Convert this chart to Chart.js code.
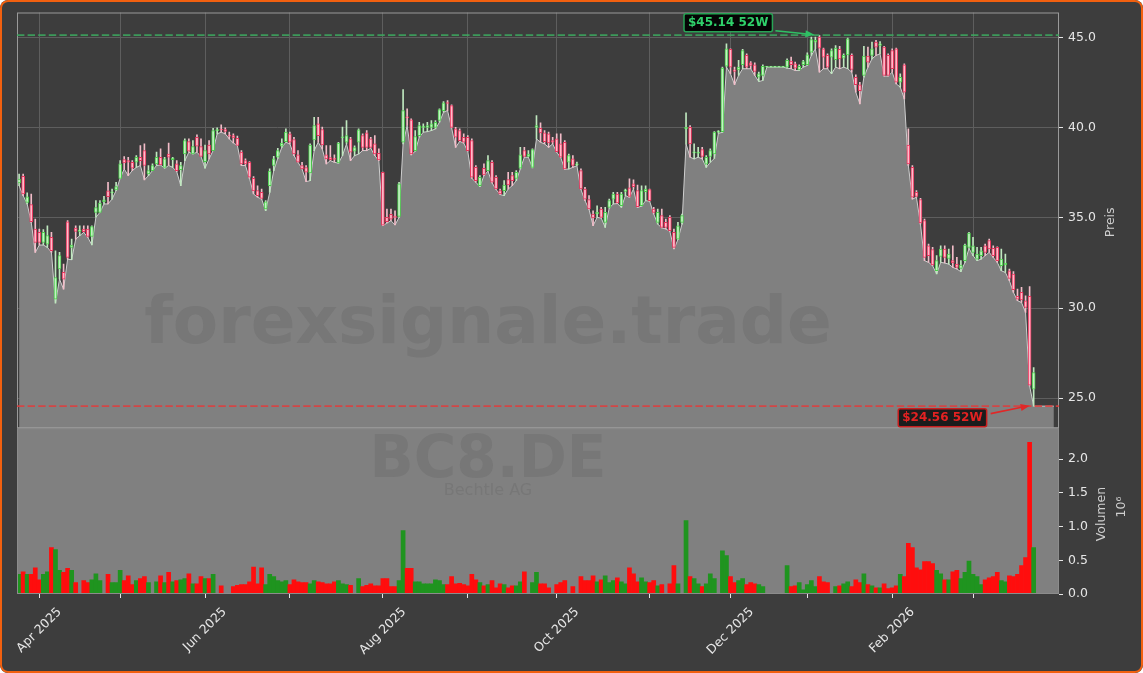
<!DOCTYPE html>
<html><head><meta charset="utf-8">
<script src="https://cdn.jsdelivr.net/npm/chart.js@4.4.1/dist/chart.umd.min.js"></script>
<style>
html,body{margin:0;padding:0;background:#ffffff;}
#wrap{position:relative;width:1143px;height:673px;background:#3d3d3d;border-radius:8px;overflow:hidden;}
#frame{position:absolute;left:0;top:0;width:1143px;height:673px;box-sizing:border-box;border:2px solid #f2600f;border-radius:8px;pointer-events:none;}
canvas{position:absolute;left:0;top:0;}
</style></head><body>
<div id="wrap"><canvas id="c" width="1143" height="673"></canvas><div id="frame"></div></div>
<script>
// ---- data (bar index = trading day, 25 Mar 2025 .. 20 Mar 2026) ----
const opens = [36.94,37.31,35.87,35.74,34.39,34.20,33.65,33.55,33.92,30.50,
32.17,31.98,34.79,33.37,34.44,34.26,34.39,34.39,33.98,35.31,
35.31,35.90,36.50,36.39,36.55,37.20,38.24,38.18,38.09,38.09,
38.37,38.74,37.44,37.63,38.00,38.37,37.81,38.55,38.24,38.00,
37.68,38.55,39.24,38.55,39.48,38.96,38.13,39.05,38.74,39.85,
39.90,39.90,39.57,39.57,39.42,38.65,38.18,38.09,37.20,36.52,
36.42,35.50,36.79,37.91,38.37,38.98,39.24,39.67,39.35,38.50,
37.91,37.80,37.50,39.33,40.22,39.91,38.50,38.35,38.30,38.05,
39.45,39.20,39.39,38.70,39.20,39.57,39.72,39.39,39.11,38.59,
37.53,35.03,35.20,35.10,35.09,39.20,40.60,40.44,38.74,39.57,
40.03,40.03,40.03,40.03,40.41,40.96,41.39,41.24,39.94,39.85,
39.48,39.48,39.29,37.81,36.79,37.76,37.63,38.09,37.26,36.52,
36.52,37.13,37.35,37.20,37.76,38.74,38.42,37.81,40.03,39.98,
39.72,39.67,39.29,39.39,39.11,39.20,38.09,38.28,37.95,37.63,
36.61,36.02,35.22,35.22,35.50,34.76,35.59,36.05,36.33,35.68,
36.48,36.67,36.89,36.52,35.68,36.46,36.57,35.50,34.76,35.13,
34.76,35.03,34.20,33.83,34.76,39.94,40.03,38.61,38.59,38.79,
37.99,38.41,38.55,39.76,39.79,43.42,44.35,43.22,43.22,43.50,
44.02,43.61,43.50,42.81,42.91,43.37,43.37,43.37,43.37,43.37,
43.37,43.70,43.55,43.22,43.50,43.50,44.20,44.76,45.04,44.39,
44.02,43.92,43.78,44.35,43.87,44.05,44.02,42.81,42.39,42.91,
43.98,44.02,44.76,44.57,44.48,44.02,44.29,44.39,42.53,43.50,
39.05,37.81,36.42,36.02,34.85,33.46,33.24,32.07,32.87,33.28,
32.76,32.63,32.44,32.20,32.63,33.37,33.09,32.72,32.91,33.46,
33.74,33.31,33.37,32.35,32.39,32.07,31.89,30.65,30.87,30.41,
30.65,25.50];
const highs = [37.44,37.44,36.39,36.33,34.94,34.39,34.35,34.57,34.20,33.18,
33.09,32.44,34.85,33.83,34.57,34.57,34.57,34.57,34.57,35.96,
35.96,36.20,36.98,36.61,36.98,38.18,38.41,38.37,38.18,38.46,
39.02,39.11,37.91,38.00,38.65,38.83,38.37,39.15,38.37,38.18,
38.09,39.39,39.39,39.30,39.61,39.39,39.05,39.30,39.98,40.00,
40.17,40.00,39.76,39.67,39.54,38.74,38.28,38.13,37.30,36.79,
36.61,35.96,37.72,38.42,38.87,39.39,39.94,39.76,39.48,38.74,
38.09,37.91,39.11,40.59,40.59,40.04,39.02,39.02,38.50,39.20,
40.04,40.40,39.48,39.00,39.94,39.67,39.85,39.48,39.57,38.83,
37.55,35.50,35.50,35.40,36.98,42.13,41.05,40.50,39.85,40.31,
40.22,40.31,40.41,40.41,41.05,41.46,41.52,41.28,40.03,39.94,
39.67,39.57,39.39,37.91,37.35,38.00,38.46,38.18,37.35,36.61,
37.07,37.53,37.53,37.63,38.92,38.92,38.74,38.83,40.68,40.28,
39.85,39.76,39.48,39.67,39.67,39.29,38.55,38.46,38.10,37.72,
36.70,36.24,35.40,35.68,35.59,35.59,36.05,36.42,36.42,36.42,
36.61,37.17,37.11,36.83,36.79,36.79,36.61,35.59,35.50,35.50,
34.94,35.13,34.39,34.76,35.22,40.83,40.13,39.11,38.92,38.92,
38.46,38.83,39.79,39.85,43.37,44.66,44.39,43.37,43.74,44.35,
44.11,43.68,43.61,43.09,43.50,43.37,43.37,43.37,43.37,43.37,
43.83,43.92,43.65,43.50,43.74,44.16,45.04,45.04,45.14,44.42,
44.11,44.39,44.57,44.53,44.11,44.98,44.11,42.94,42.53,44.53,
44.48,44.76,44.85,44.79,44.53,44.11,44.39,44.42,43.00,43.55,
39.94,37.91,36.52,36.09,34.94,33.55,33.37,32.91,33.46,33.46,
33.28,33.46,32.81,32.63,33.55,34.20,33.92,33.37,33.37,33.55,
33.83,33.46,33.40,33.28,33.00,32.17,32.02,31.05,31.15,30.68,
31.20,26.70];
const lows = [36.79,36.24,35.78,34.76,33.09,33.50,33.50,33.37,33.09,30.28,
31.61,31.05,32.72,32.68,33.83,34.02,34.20,33.92,33.50,35.04,
35.31,35.78,35.78,36.05,36.52,37.20,37.72,37.35,37.63,37.81,
37.91,37.11,37.35,37.63,37.91,37.94,37.76,37.91,37.81,37.57,
36.79,38.18,38.65,38.55,38.65,38.41,37.76,38.28,38.74,39.67,
39.76,39.67,39.39,39.16,39.02,37.91,37.91,37.20,36.33,36.15,
36.05,35.40,36.42,37.63,38.31,38.92,39.20,39.11,38.46,38.09,
37.72,37.02,37.07,38.74,39.20,38.83,38.00,38.18,38.09,38.04,
38.46,39.11,38.18,38.46,38.55,38.74,38.74,38.87,38.46,38.18,
34.57,34.72,34.85,34.61,35.03,39.11,40.13,38.50,38.70,39.48,
39.76,39.79,39.85,39.94,40.31,40.87,40.96,40.00,38.92,39.25,
39.15,38.70,37.20,36.98,36.74,37.35,37.60,36.95,36.58,36.30,
36.24,36.61,36.79,37.07,37.72,38.37,38.37,37.78,39.39,39.20,
39.11,38.92,39.11,38.65,38.35,37.70,37.72,37.81,37.90,36.58,
35.96,35.48,34.57,35.03,35.00,34.48,35.55,35.78,35.80,35.59,
36.24,36.15,36.61,35.59,35.65,35.96,35.93,35.22,34.66,34.45,
34.39,34.26,33.28,33.80,34.66,39.11,38.37,38.28,38.37,38.28,
37.81,38.09,38.30,39.70,39.75,43.37,43.00,42.39,42.91,43.28,
43.28,43.28,42.91,42.57,42.63,43.37,43.37,43.37,43.37,43.37,
43.31,43.28,43.18,43.18,43.37,43.46,44.02,44.39,43.09,43.28,
43.28,43.00,43.37,43.28,43.37,43.28,43.09,41.98,41.33,42.81,
43.37,43.83,44.02,44.11,42.87,42.87,43.09,42.44,42.26,41.61,
37.91,36.05,36.15,34.66,32.63,32.54,32.35,31.89,32.54,32.50,
32.44,32.26,32.17,32.02,32.54,33.31,32.91,32.63,32.72,32.91,
33.09,32.81,32.54,32.07,31.98,31.52,30.87,30.41,30.31,29.76,
25.68,24.56];
const closes = [37.16,36.33,36.18,34.79,33.65,33.65,34.20,34.02,33.18,31.70,
32.91,31.61,32.81,33.50,34.26,34.33,34.24,33.98,34.52,35.57,
35.83,36.00,36.18,36.42,36.74,38.00,38.05,38.09,37.76,38.37,
38.18,37.91,37.63,37.91,38.37,37.94,38.28,38.37,38.33,37.63,
37.91,39.30,38.70,38.96,38.98,38.41,38.74,38.55,39.85,39.90,
39.88,39.80,39.54,39.44,39.02,38.00,38.00,37.26,36.50,36.24,
36.09,35.90,37.60,38.28,38.74,39.16,39.76,39.20,38.55,38.09,
37.72,37.54,39.05,40.13,39.57,39.05,38.28,38.24,38.25,39.16,
39.50,39.57,38.65,38.90,39.89,38.92,38.92,38.92,38.55,38.22,
34.60,34.79,34.94,35.03,36.89,40.96,40.55,38.55,39.52,40.13,
40.07,40.13,40.22,40.31,41.02,41.39,41.35,40.03,39.48,39.29,
39.20,38.74,37.26,37.07,37.26,37.39,38.18,36.98,36.61,36.33,
36.83,36.83,37.07,37.53,38.50,38.42,38.55,38.79,40.13,39.72,
39.24,39.17,39.20,38.68,38.37,37.72,38.46,37.91,38.00,36.61,
36.05,35.50,35.00,35.31,35.03,35.31,35.96,36.33,35.83,36.33,
36.55,36.20,36.74,35.63,36.52,36.61,35.96,35.31,35.31,34.48,
34.48,34.29,33.37,34.57,35.13,40.03,39.11,38.65,38.65,38.42,
38.37,38.74,39.76,39.79,43.31,44.39,43.37,43.13,43.37,44.29,
43.37,43.46,43.13,43.00,43.42,43.37,43.37,43.37,43.37,43.37,
43.74,43.50,43.31,43.42,43.68,44.05,44.90,44.85,44.42,43.92,
43.37,44.29,44.42,43.83,44.02,44.94,43.24,42.39,42.07,43.98,
43.65,44.39,44.48,44.66,42.91,42.91,43.28,42.53,42.81,41.98,
38.00,36.15,36.20,34.72,32.81,32.91,32.39,32.63,33.28,32.81,
33.00,32.50,32.26,32.39,33.50,34.16,33.46,33.00,33.18,33.09,
33.28,32.91,32.63,32.72,32.50,31.65,31.02,30.50,30.46,30.04,
25.72,26.42];
// volume in millions of shares
const volumes = [0.29,0.33,0.29,0.29,0.39,0.21,0.29,0.33,0.69,0.66,
0.35,0.32,0.38,0.35,0.17,0,0.20,0.17,0.21,0.30,
0.20,0,0.29,0.17,0.17,0.35,0.20,0.27,0.14,0.20,
0.23,0.26,0.17,0,0.18,0.27,0.17,0.32,0.18,0.20,
0.21,0.23,0.30,0.15,0.15,0.26,0.23,0.23,0.29,0,
0.12,0,0,0.11,0.13,0.14,0.14,0.18,0.40,0.15,
0.39,0.14,0.29,0.26,0.20,0.18,0.20,0.14,0.21,0.18,
0.17,0.17,0.15,0.20,0.18,0.17,0.15,0.15,0.18,0.20,
0.15,0.14,0.13,0,0.23,0.11,0.13,0.15,0.12,0.12,
0.23,0.23,0.11,0.11,0.20,0.94,0.38,0.38,0.18,0.18,
0.15,0.15,0.15,0.21,0.20,0.14,0.14,0.26,0.15,0.16,
0.14,0.12,0.29,0.21,0.17,0.12,0.14,0.20,0.09,0.15,
0.14,0.09,0.12,0.12,0.18,0.33,0,0.17,0.32,0.15,
0.15,0.09,0,0.14,0.17,0.20,0,0.11,0,0.26,
0.20,0.20,0.27,0.18,0.21,0.27,0.17,0.20,0.24,0.18,
0.15,0.39,0.30,0.18,0.24,0.18,0.17,0.20,0.12,0.14,
0,0.15,0.42,0.15,0,1.09,0.26,0.23,0.15,0.11,
0.15,0.30,0.23,0,0.64,0.57,0.26,0.17,0.20,0.23,
0.14,0.17,0.15,0.14,0.11,0,0,0,0,0,
0.42,0.11,0.12,0.17,0.06,0.14,0.20,0.11,0.26,0.18,
0.17,0,0.11,0.12,0.15,0.18,0.11,0.21,0.17,0.30,
0.14,0.12,0.09,0.09,0.15,0.08,0.09,0.12,0.29,0.26,
0.75,0.69,0.39,0.36,0.48,0.48,0.45,0.35,0.30,0.21,
0.21,0.33,0.35,0.23,0.32,0.49,0.29,0.26,0.14,0.21,
0.24,0.26,0.32,0.20,0.18,0.27,0.26,0.29,0.42,0.54,
2.25,0.69];
const monthTickIndex = [5,25,46,67,90,111,133,156,176,195,216,236];
const monthTickLabels = ['Apr 2025','','Jun 2025','','Aug 2025','','Oct 2025','','Dec 2025','','Feb 2026',''];
const priceTicks = [25,30,35,40,45];
const volumeTicks = [0,0.5,1.0,1.5,2.0];
const symbolText = 'BC8.DE';
const companyText = 'Bechtle AG';
const watermarkText = 'forexsignale.trade';
const priceTitle = 'Preis';
const volumeTitle = 'Volumen';
const volumeMultiplier = '10\u2076';

// ---- derived ----
const N = closes.length;
const idx = closes.map((_, i) => i);
const isUp = idx.map(i => closes[i] >= opens[i]);
const hi52 = Math.max(...highs), lo52 = Math.min(...lows);
const hiIdx = highs.indexOf(hi52), loIdx = lows.indexOf(lo52);
const fillPts = idx.map(i => ({x: i, y: lows[i]}));
for (let k = 1; k <= 5; k++) fillPts.push({x: N - 1 + k, y: lows[N - 1]});

const UP_EDGE = '#4ccd4c', UP_FILL = '#c4f2c4', DN_EDGE = '#e8345c', DN_FILL = '#ffbccb';
const UP_WICK = '#bfe8bf', DN_WICK = '#f2bcc8';
const FONT = '"DejaVu Sans", sans-serif';

function arrow(ctx, sx, sy, ex, ey, color) {
  const a = Math.atan2(ey - sy, ex - sx);
  ctx.strokeStyle = color; ctx.fillStyle = color; ctx.lineWidth = 1.6;
  ctx.beginPath(); ctx.moveTo(sx, sy); ctx.lineTo(ex - 7 * Math.cos(a), ey - 7 * Math.sin(a)); ctx.stroke();
  ctx.beginPath(); ctx.moveTo(ex, ey);
  ctx.lineTo(ex - 9 * Math.cos(a) + 3.5 * Math.sin(a), ey - 9 * Math.sin(a) - 3.5 * Math.cos(a));
  ctx.lineTo(ex - 9 * Math.cos(a) - 3.5 * Math.sin(a), ey - 9 * Math.sin(a) + 3.5 * Math.cos(a));
  ctx.closePath(); ctx.fill();
}
function tag(ctx, text, fg, edge, bg, right, cy) {
  ctx.font = 'bold 12px ' + FONT;
  const w = ctx.measureText(text).width + 8, h = 18;
  const x0 = right - w, y0 = cy - h / 2;
  ctx.beginPath(); ctx.roundRect(x0, y0, w, h, 2);
  ctx.fillStyle = bg; ctx.fill(); ctx.lineWidth = 1.5; ctx.strokeStyle = edge; ctx.stroke();
  ctx.fillStyle = fg; ctx.textAlign = 'center'; ctx.textBaseline = 'middle';
  ctx.fillText(text, x0 + w / 2, cy + 0.5);
}

const decor = {
  id: 'decor',
  beforeDatasetsDraw(chart) {
    const {ctx, chartArea: ca} = chart; const yV = chart.scales.yV;
    ctx.save(); ctx.fillStyle = '#808080';
    ctx.fillRect(ca.left, yV.top, ca.right - ca.left, yV.bottom - yV.top);
    ctx.restore();
  },
  afterDatasetsDraw(chart) {
    const {ctx, chartArea: ca} = chart; const {x, yP, yV} = chart.scales;
    ctx.save();
    ctx.textAlign = 'center'; ctx.textBaseline = 'middle'; ctx.fillStyle = 'rgba(40,40,40,0.10)';
    ctx.font = 'bold 66px ' + FONT; ctx.fillText(watermarkText, 488, 326);
    ctx.font = 'bold 58px ' + FONT; ctx.fillText(symbolText, 488, 462);
    ctx.font = '16px ' + FONT; ctx.fillText(companyText, 488, 491);
    ctx.strokeStyle = '#9a9a9a'; ctx.lineWidth = 1;
    ctx.strokeRect(ca.left + 0.5, yP.top + 0.5, ca.right - ca.left - 1, yP.bottom - yP.top - 1);
    ctx.strokeStyle = '#8c8c8c';
    ctx.strokeRect(ca.left + 0.5, yV.top + 0.5, ca.right - ca.left - 1, yV.bottom - yV.top - 1);
    const yh = yP.getPixelForValue(hi52), yl = yP.getPixelForValue(lo52);
    ctx.lineWidth = 1.8; ctx.setLineDash([7.4, 3.2]);
    ctx.strokeStyle = 'rgba(60,170,95,0.85)';
    ctx.beginPath(); ctx.moveTo(ca.left, yh); ctx.lineTo(ca.right, yh); ctx.stroke();
    ctx.strokeStyle = 'rgba(225,60,60,0.85)';
    ctx.beginPath(); ctx.moveTo(ca.left, yl); ctx.lineTo(ca.right, yl); ctx.stroke();
    ctx.setLineDash([]);
    const xh = x.getPixelForValue(hiIdx), xl = x.getPixelForValue(loIdx);
    tag(ctx, '$' + hi52.toFixed(2) + ' 52W', '#2fd06a', '#27a455', '#050505', xh - 47, yh - 12.5);
    arrow(ctx, xh - 44, yh - 4.5, xh - 5, yh - 0.5, '#2fc064');
    tag(ctx, '$' + lo52.toFixed(2) + ' 52W', '#e32222', '#c81e1e', '#1c1c1c', xl - 47, yl + 11.5);
    arrow(ctx, xl - 43, yl + 7.5, xl - 4, yl - 0.5, '#e02828');
    ctx.restore();
  },
  afterDraw(chart) {
    const {ctx} = chart; const {x, yP, yV} = chart.scales;
    ctx.save();
    ctx.fillStyle = '#e6e6e6'; ctx.font = '12.5px ' + FONT;
    monthTickIndex.forEach((v, k) => {
      const lab = monthTickLabels[k]; if (!lab) return;
      const px = x.getPixelForValue(v); const w = ctx.measureText(lab).width;
      ctx.save(); ctx.translate(px + w * 0.3535, 610); ctx.rotate(-Math.PI / 4);
      ctx.textAlign = 'right'; ctx.textBaseline = 'middle'; ctx.fillText(lab, 0, 0); ctx.restore();
    });
    const vtext = (t, cx, cy) => { ctx.save(); ctx.translate(cx, cy); ctx.rotate(-Math.PI / 2);
      ctx.textAlign = 'center'; ctx.textBaseline = 'middle'; ctx.fillText(t, 0, 0); ctx.restore(); };
    ctx.fillStyle = '#cfcfcf';
    vtext(priceTitle, 1111, (yP.top + yP.bottom) / 2 + 2);
    vtext(volumeTitle, 1102, (yV.top + yV.bottom) / 2 + 3);
    vtext(volumeMultiplier, 1122, (yV.top + yV.bottom) / 2 - 4);
    ctx.restore();
  }
};

const tickFont = {family: 'DejaVu Sans', size: 12.5};
new Chart(document.getElementById('c'), {
  data: {
    datasets: [
      {type: 'line', yAxisID: 'yP', data: fillPts, borderColor: '#cfcfcf', borderWidth: 1,
       backgroundColor: '#808080', fill: 'start', pointRadius: 0, tension: 0, order: 10},
      {type: 'bar', yAxisID: 'yP', data: idx.map(i => ({x: i, y: [lows[i], highs[i]]})),
       backgroundColor: idx.map(i => isUp[i] ? UP_WICK : DN_WICK), barThickness: 1, grouped: false, order: 5},
      {type: 'bar', yAxisID: 'yP', data: idx.map(i => ({x: i, y: [opens[i], closes[i]]})),
       backgroundColor: idx.map(i => isUp[i] ? UP_FILL : DN_FILL), borderColor: idx.map(i => isUp[i] ? UP_EDGE : DN_EDGE),
       borderWidth: 1, borderSkipped: false, barThickness: 3, minBarLength: 1, grouped: false, order: 1},
      {type: 'bar', yAxisID: 'yV', data: idx.map(i => ({x: i, y: volumes[i]})),
       backgroundColor: idx.map(i => isUp[i] ? '#1f941f' : '#ff0d0d'), barPercentage: 1, categoryPercentage: 1,
       grouped: false, order: 3}
    ]
  },
  options: {
    responsive: false, animation: false, devicePixelRatio: 1, events: [],
    layout: {padding: {left: 17, top: 12, right: 0, bottom: 0}},
    plugins: {legend: {display: false}, tooltip: {enabled: false}},
    scales: {
      x: {type: 'linear', position: 'bottom', min: -0.52, max: 257.27, offset: false,
          afterBuildTicks: s => { s.ticks = monthTickIndex.map(v => ({value: v})); },
          ticks: {display: false},
          grid: {offset: false, color: '#5e5e5e', lineWidth: 1, drawTicks: true, tickLength: 4, tickColor: '#e6e6e6'},
          border: {display: false},
          afterFit: s => { s.height = 79; }},
      yP: {type: 'linear', position: 'right', stack: 'panes', stackWeight: 416, min: 23.34, max: 46.40,
           afterBuildTicks: s => { s.ticks = priceTicks.map(v => ({value: v})); },
           ticks: {color: '#e6e6e6', font: tickFont, padding: 5, callback: v => v.toFixed(1)},
           grid: {color: '#5e5e5e', lineWidth: 1, tickLength: 4, tickColor: '#e6e6e6'},
           border: {display: false},
           afterFit: s => { s.width = 84; }},
      yV: {type: 'linear', position: 'right', stack: 'panes', stackWeight: 166, min: 0, max: 2.46,
           afterBuildTicks: s => { s.ticks = volumeTicks.map(v => ({value: v})); },
           ticks: {color: '#e6e6e6', font: tickFont, padding: 5, callback: v => v.toFixed(1)},
           grid: {drawOnChartArea: false, tickLength: 4, tickColor: '#e6e6e6'},
           border: {display: false},
           afterFit: s => { s.width = 84; }}
    }
  },
  plugins: [decor]
});
</script></body></html>
